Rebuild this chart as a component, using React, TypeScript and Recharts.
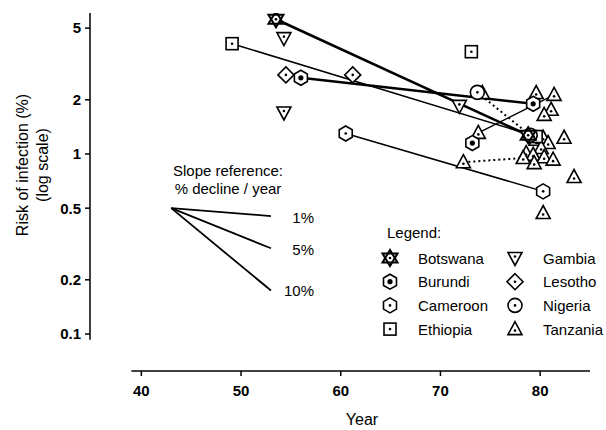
import {
  ComposedChart,
  Scatter,
  XAxis,
  YAxis,
  ReferenceLine,
  Customized,
} from 'recharts';

// risk of infection (%) by survey year, one list per country
const botswana = [
  { year: 53.5, risk: 5.6 },
  { year: 78.8, risk: 1.27 },
];
const burundi = [
  { year: 56, risk: 2.65 },
  { year: 73.2, risk: 1.15 },
  { year: 79.3, risk: 1.9 },
];
const cameroon = [
  { year: 60.5, risk: 1.3 },
  { year: 80.3, risk: 0.62 },
];
const ethiopia = [
  { year: 49.1, risk: 4.1 },
  { year: 73.1, risk: 3.7 },
  { year: 79.6, risk: 1.25 },
];
const gambia = [
  { year: 54.3, risk: 4.4 },
  { year: 54.3, risk: 1.7 },
  { year: 71.9, risk: 1.85 },
];
const lesotho = [
  { year: 54.5, risk: 2.75 },
  { year: 61.2, risk: 2.75 },
];
const nigeria = [
  { year: 73.7, risk: 2.2 },
  { year: 79.0, risk: 1.27 },
];
const tanzania = [
  { year: 74.2, risk: 2.18 },
  { year: 79.6, risk: 2.18 },
  { year: 81.4, risk: 2.13 },
  { year: 81.1, risk: 1.76 },
  { year: 80.4, risk: 1.65 },
  { year: 73.8, risk: 1.31 },
  { year: 82.4, risk: 1.23 },
  { year: 79.6, risk: 1.2 },
  { year: 80.3, risk: 1.23 },
  { year: 80.8, risk: 1.15 },
  { year: 80.1, risk: 1.08 },
  { year: 78.6, risk: 1.01 },
  { year: 79.3, risk: 0.99 },
  { year: 80.4, risk: 0.96 },
  { year: 81.3, risk: 0.93 },
  { year: 79.4, risk: 0.89 },
  { year: 72.3, risk: 0.9 },
  { year: 78.3, risk: 0.95 },
  { year: 83.4, risk: 0.745 },
  { year: 80.3, risk: 0.47 },
];

// trend links between surveys
const links = [
  { from: botswana[0], to: botswana[1], kind: 'thick' },
  { from: burundi[0], to: burundi[2], kind: 'thick' },
  { from: ethiopia[0], to: ethiopia[2], kind: 'thin' },
  { from: cameroon[0], to: cameroon[1], kind: 'thin' },
  { from: tanzania[5], to: tanzania[2], kind: 'thin' },
  { from: nigeria[0], to: nigeria[1], kind: 'dotted' },
  { from: tanzania[16], to: tanzania[17], kind: 'dotted' },
];

const slopeRates = [1, 5, 10];
const slopeStart = { year: 43, risk: 0.5 };
const slopeYears = 10;

const xTicks = [40, 50, 60, 70, 80];
const yTicks = [0.1, 0.2, 0.5, 1, 2, 5];

const legendItems = [
  { name: 'Botswana', kind: 'star' },
  { name: 'Burundi', kind: 'hexfill' },
  { name: 'Cameroon', kind: 'hex' },
  { name: 'Ethiopia', kind: 'square' },
  { name: 'Gambia', kind: 'down' },
  { name: 'Lesotho', kind: 'diamond' },
  { name: 'Nigeria', kind: 'circle' },
  { name: 'Tanzania', kind: 'up' },
];

const X_MIN = 34.85;
const X_MAX = 85;
const Y_MIN = 0.0623;
const Y_MAX = 6.07;

const FONT = '"Liberation Sans", Arial, sans-serif';

function Marker({ kind, cx, cy }: { kind: string; cx: number; cy: number }) {
  const st = { fill: '#fff', stroke: '#000', strokeWidth: 1.6 };
  const dot = (dy = 0, r = 1.3) => <circle cx={cx} cy={cy + dy} r={r} fill="#000" />;
  const hex = (r: number) =>
    [0, 1, 2, 3, 4, 5]
      .map((i) => {
        const a = (Math.PI / 3) * i - Math.PI / 2;
        return `${cx + r * Math.cos(a)},${cy + r * Math.sin(a)}`;
      })
      .join(' ');
  switch (kind) {
    case 'up':
      return (
        <g>
          <polygon points={`${cx},${cy - 7.5} ${cx - 7},${cy + 5.5} ${cx + 7},${cy + 5.5}`} {...st} />
          {dot(1.5)}
        </g>
      );
    case 'down':
      return (
        <g>
          <polygon points={`${cx - 7},${cy - 5.5} ${cx + 7},${cy - 5.5} ${cx},${cy + 7.5}`} {...st} />
          {dot(-1.5)}
        </g>
      );
    case 'square':
      return (
        <g>
          <rect x={cx - 6} y={cy - 6} width={12} height={12} {...st} />
          {dot()}
        </g>
      );
    case 'diamond':
      return (
        <g>
          <polygon points={`${cx},${cy - 8} ${cx + 8},${cy} ${cx},${cy + 8} ${cx - 8},${cy}`} {...st} />
          {dot()}
        </g>
      );
    case 'circle':
      return (
        <g>
          <circle cx={cx} cy={cy} r={7} {...st} />
          {dot()}
        </g>
      );
    case 'hex':
      return (
        <g>
          <polygon points={hex(7.5)} {...st} />
          {dot()}
        </g>
      );
    case 'hexfill':
      return (
        <g>
          <polygon points={hex(7.5)} {...st} />
          {dot(0, 2.6)}
        </g>
      );
    case 'star':
      return (
        <g>
          <polygon points={`${cx - 7.5},${cy - 4.5} ${cx + 7.5},${cy - 4.5} ${cx},${cy + 8}`} {...st} strokeWidth={2} />
          <polygon points={`${cx},${cy - 8} ${cx - 7.5},${cy + 4.5} ${cx + 7.5},${cy + 4.5}`} fill="none" stroke="#000" strokeWidth={2} />
          {dot()}
        </g>
      );
    default:
      return <g />;
  }
}

const shapeOf = (kind: string) => (p: any) => <Marker kind={kind} cx={p.cx} cy={p.cy} />;
const noShape = () => <g />;

const lineStyle: Record<string, any> = {
  thick: { stroke: '#000', strokeWidth: 2.6 },
  thin: { stroke: '#000', strokeWidth: 1.5 },
  dotted: { stroke: '#000', strokeWidth: 2, strokeDasharray: '2 3' },
};

function Overlay() {
  const tx = { fontFamily: FONT, fontSize: 15, fill: '#000' };
  return (
    <g>
      <text x={22} y={165} transform="rotate(-90, 22, 165)" textAnchor="middle" dominantBaseline="central" {...tx} fontSize={16}>
        Risk of infection (%)
      </text>
      <text x={42} y={165} transform="rotate(-90, 42, 165)" textAnchor="middle" dominantBaseline="central" {...tx} fontSize={16}>
        (log scale)
      </text>
      <text x={362} y={425} textAnchor="middle" {...tx} fontSize={16}>
        Year
      </text>
      <text x={228} y={176} textAnchor="middle" {...tx}>
        Slope reference:
      </text>
      <text x={228} y={194} textAnchor="middle" {...tx}>
        % decline / year
      </text>
      {slopeRates.map((r, i) => (
        <text key={r} x={314} y={[223, 255, 296][i]} textAnchor="end" {...tx}>
          {r}%
        </text>
      ))}
      <text x={387} y={238} {...tx}>
        Legend:
      </text>
      {legendItems.map((it, i) => {
        const col = Math.floor(i / 4);
        const row = i % 4;
        const cy = 258 + row * 23.7;
        return (
          <g key={it.name}>
            <Marker kind={it.kind} cx={col === 0 ? 390 : 515} cy={cy} />
            <text x={col === 0 ? 418 : 543} y={cy + 5.5} {...tx}>
              {it.name}
            </text>
          </g>
        );
      })}
    </g>
  );
}

export default function App() {
  return (
    <div style={{ position: 'absolute', left: 0, top: 0, fontFamily: FONT, background: '#fff' }}>
      <ComposedChart width={606} height={430} margin={{ top: 13, right: 16, bottom: 29, left: 40 }}>
        <XAxis
          type="number"
          dataKey="year"
          domain={[X_MIN, X_MAX]}
          ticks={xTicks}
          allowDataOverflow
          axisLine={false}
          tickSize={5}
          tickMargin={9}
          height={30}
          tickLine={{ stroke: '#000', strokeWidth: 1.5 }}
          tick={{ fill: '#000', fontSize: 15, fontWeight: 'bold', fontFamily: FONT }}
        />
        <YAxis
          type="number"
          dataKey="risk"
          scale="log"
          domain={[Y_MIN, Y_MAX]}
          ticks={yTicks}
          allowDataOverflow
          axisLine={false}
          width={50}
          tickSize={5}
          tickMargin={4}
          tickLine={{ stroke: '#000', strokeWidth: 1.5 }}
          tick={{ fill: '#000', fontSize: 15, fontWeight: 'bold', fontFamily: FONT }}
        />
        <ReferenceLine
          segment={[{ x: X_MIN, y: 0.093 }, { x: X_MIN, y: Y_MAX }]}
          stroke="#000"
          strokeWidth={1.5}
          ifOverflow="visible"
        />
        <ReferenceLine
          segment={[{ x: 39, y: Y_MIN }, { x: X_MAX, y: Y_MIN }]}
          stroke="#000"
          strokeWidth={1.5}
          ifOverflow="visible"
        />
        {slopeRates.map((r) => (
          <ReferenceLine
            key={'s' + r}
            segment={[
              { x: slopeStart.year, y: slopeStart.risk },
              { x: slopeStart.year + slopeYears, y: slopeStart.risk * Math.pow(1 - r / 100, slopeYears) },
            ]}
            stroke="#000"
            strokeWidth={1.8}
            ifOverflow="visible"
          />
        ))}
        {links.map((l, i) => (
          <Scatter
            key={'l' + i}
            data={[l.from, l.to]}
            line={lineStyle[l.kind]}
            shape={noShape}
            isAnimationActive={false}
          />
        ))}
        <Scatter data={tanzania} shape={shapeOf('up')} isAnimationActive={false} />
        <Scatter data={ethiopia} shape={shapeOf('square')} isAnimationActive={false} />
        <Scatter data={gambia} shape={shapeOf('down')} isAnimationActive={false} />
        <Scatter data={lesotho} shape={shapeOf('diamond')} isAnimationActive={false} />
        <Scatter data={cameroon} shape={shapeOf('hex')} isAnimationActive={false} />
        <Scatter data={nigeria} shape={shapeOf('circle')} isAnimationActive={false} />
        <Scatter data={burundi} shape={shapeOf('hexfill')} isAnimationActive={false} />
        <Scatter data={botswana} shape={shapeOf('star')} isAnimationActive={false} />
        <Customized component={Overlay} />
      </ComposedChart>
    </div>
  );
}
